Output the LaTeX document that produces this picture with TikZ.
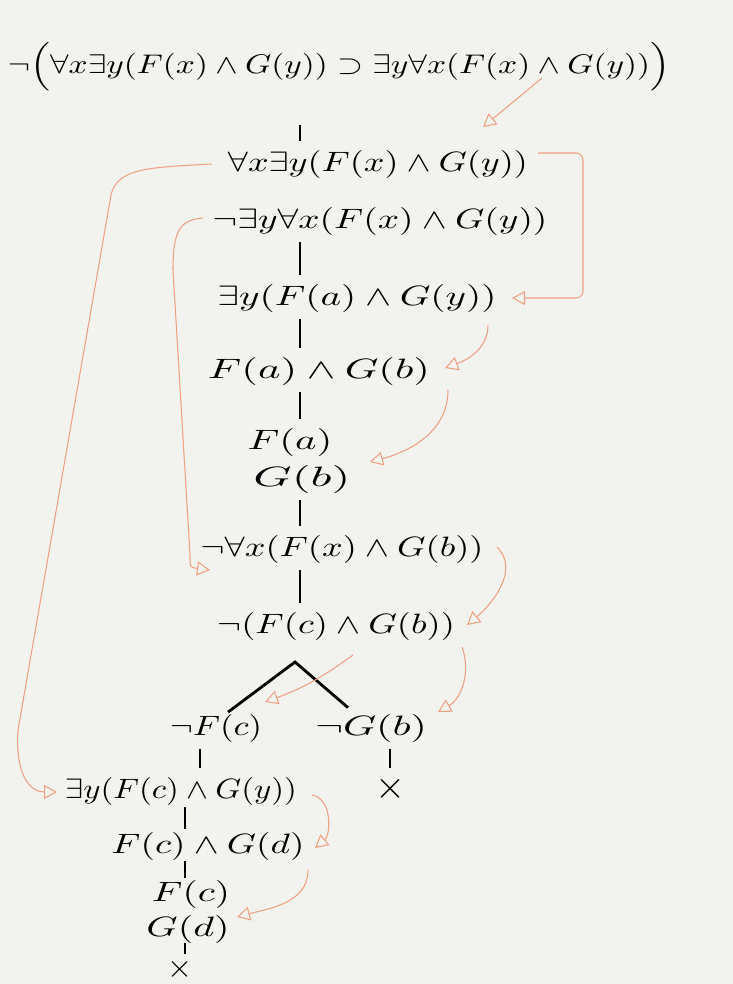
\documentclass[tikz,border=0pt]{standalone}
\usepackage{amsmath,amssymb}
\usepackage{graphicx}
\usetikzlibrary{arrows.meta}
\definecolor{paper}{RGB}{242,243,239}
\definecolor{hint}{RGB}{240,160,130}

\begin{document}
\begin{tikzpicture}[line width=0.7pt,>=Stealth,
  fml/.style={inner sep=0pt,text height=0.45cm,text depth=0.12cm},
  bar/.style={line width=1pt,shorten <=0.15cm,shorten >=0.15cm},
  fork/.style={line width=1.6pt},
  hint/.style={draw=hint,line width=0.6pt,-{Triangle[open,length=2.6mm,width=2.8mm]}}]
\def\fml#1#2{\resizebox{#1cm}{0.42cm}{$#2$}}
% sheet of paper
\fill[paper] (0,0) rectangle (14.66,-19.68);
\useasboundingbox (0,0) rectangle (14.66,-19.68);
% where the little bars of the tree stand
\coordinate (tA) at (6,0);
\coordinate (tB) at (3.7,0);
\coordinate (tC) at (4,0);
\coordinate (fork) at (5.9,-13.24);
% the tree
\node[fml] (top) at (6.78,-1.30) {\resizebox{13.24cm}{0.62cm}{$\neg\Bigl(\forall x\exists y(F(x)\wedge G(y))\supset\exists y\forall x(F(x)\wedge G(y))\Bigr)$}};
\node[fml] (l2) at (7.56,-3.26) {\fml{6.0}{\forall x\exists y(F(x)\wedge G(y))}};
\node[fml] (l3) at (7.6,-4.4) {\fml{6.7}{\neg\exists y\forall x(F(x)\wedge G(y))}};
\node[fml] (l4) at (7.14,-5.94) {\fml{5.58}{\exists y(F(a)\wedge G(y))}};
\node[fml] (l5) at (6.38,-7.4) {\fml{4.44}{F(a)\wedge G(b)}};
\node[fml] (l6) at (5.8,-8.82) {\fml{1.7}{F(a)}};
\node[fml] (l7) at (6.04,-9.56) {\fml{1.94}{G(b)}};
\node[fml] (l8) at (6.84,-10.96) {\fml{5.66}{\neg\forall x(F(x)\wedge G(b))}};
\node[fml] (l9) at (6.72,-12.5) {\fml{4.76}{\neg(F(c)\wedge G(b))}};
\node[fml] (nFc) at (4.32,-14.54) {\fml{1.84}{\neg F(c)}};
\node[fml] (nGb) at (7.42,-14.54) {\fml{2.24}{\neg G(b)}};
\node[fml] (xr) at (7.8,-15.8) {\resizebox{0.6cm}{!}{$\times$}};
\node[fml] (l10) at (3.62,-15.8) {\fml{4.64}{\exists y(F(c)\wedge G(y))}};
\node[fml] (l11) at (4.16,-16.9) {\fml{3.86}{F(c)\wedge G(d)}};
\node[fml] (l12) at (3.82,-17.86) {\fml{1.56}{F(c)}};
\node[fml] (l13) at (3.76,-18.56) {\fml{1.66}{G(d)}};
\node[fml] (xl) at (3.6,-19.38) {\resizebox{0.5cm}{!}{$\times$}};
% bars
\draw[bar,shorten <=0.9cm] (top.south -| tA) -- (l2.north -| tA);
\draw[bar] (l3.south -| tA) -- (l4.north -| tA);
\draw[bar] (l4.south -| tA) -- (l5.north -| tA);
\draw[bar] (l5.south -| tA) -- (l6.north -| tA);
\draw[bar] (l7.south -| tA) -- (l8.north -| tA);
\draw[bar] (l8.south -| tA) -- (l9.north -| tA);
\draw[bar] (nFc.south -| tC) -- (l10.north -| tC);
\draw[bar] (nGb.south -| xr) -- (xr.north);
\draw[bar,shorten <=0.05cm,shorten >=0.02cm] (l10.south -| tB) -- (l11.north -| tB);
\draw[bar,shorten <=0.02cm,shorten >=0cm] (l11.south -| tB) -- (l12.north -| tB);
\draw[bar,shorten <=0cm,shorten >=0cm] (l13.south -| tB) -- (xl.north -| tB);
\draw[fork] ([xshift=0.24cm]nFc.north) -- (fork) -- ([shift={(-0.46,0.09)}]nGb.north);
% which line was used for which
\draw[hint] ([shift={(4.06,-0.26)}]top.center) -- ([shift={(2.1,0.72)}]l2.center);
\draw[hint,rounded corners=4pt] ([shift={(3.2,0.2)}]l2.center) -- ++(0.9,0) |- ([shift={(3.1,-0.02)}]l4.center);
\draw[hint] ([shift={(-3.32,-0.02)}]l2.center) .. controls (3.0,-3.35) and (2.35,-3.35) .. (2.22,-3.9)
  -- (0.36,-14.6) .. controls (0.3,-15.5) and (0.6,-15.84) .. ([shift={(-2.48,-0.04)}]l10.center);
\draw[hint] ([shift={(-3.54,0.04)}]l3.center) .. controls (3.6,-4.4) and (3.46,-4.6) .. (3.46,-5.4)
  -- (3.8,-11.1) .. controls (3.8,-11.35) .. ([shift={(-2.64,-0.44)}]l8.center);
\draw[hint] ([shift={(2.62,-0.56)}]l4.center) to[out=-90,in=20] ([shift={(2.52,0.04)}]l5.center);
\draw[hint] ([shift={(2.58,-0.4)}]l5.center) to[out=-90,in=15] ([shift={(1.6,-0.42)}]l6.center);
\draw[hint] ([shift={(3.1,0.02)}]l8.center) to[out=-45,in=40] ([shift={(2.62,0)}]l9.center);
\draw[hint] ([shift={(0.34,-0.6)}]l9.center) to[bend left=8] ([shift={(0.98,0.5)}]nFc.center);
\draw[hint] ([shift={(2.52,-0.44)}]l9.center) to[out=-70,in=30] ([shift={(1.34,0.3)}]nGb.center);
\draw[hint] ([shift={(2.62,-0.1)}]l10.center) to[out=-10,in=40] ([shift={(2.14,-0.06)}]l11.center);
\draw[hint] ([shift={(2.0,-0.5)}]l11.center) to[out=-90,in=15] ([shift={(0.92,-0.48)}]l12.center);
\end{tikzpicture}
\end{document}
